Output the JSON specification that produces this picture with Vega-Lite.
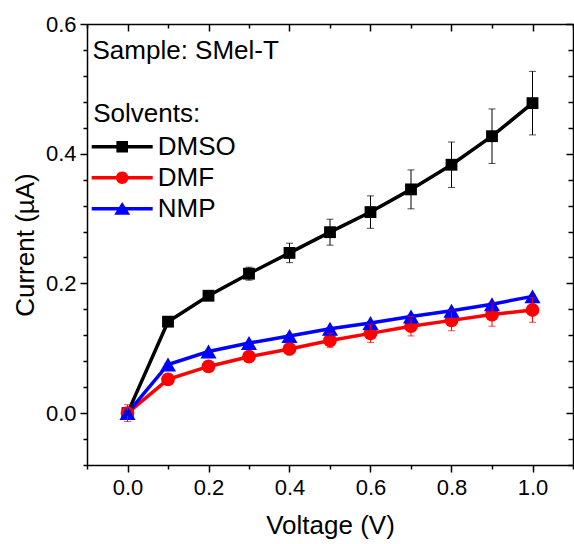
{
  "$schema": "https://vega.github.io/schema/vega-lite/v6.json",
  "width": 486,
  "height": 441,
  "autosize": {"type": "none"},
  "padding": {"left": 87, "top": 24, "right": 1, "bottom": 79},
  "background": "white",
  "title": {
    "text": "Sample: SMel-T",
    "anchor": "start",
    "frame": "group",
    "orient": "top",
    "offset": 0,
    "baseline": "alphabetic",
    "dx": 5.5,
    "dy": 71.5,
    "font": "Liberation Sans",
    "fontSize": 26,
    "fontWeight": "normal",
    "color": "black"
  },
  "config": {
    "font": "Liberation Sans",
    "view": {"stroke": null},
    "axis": {
      "grid": false,
      "domainColor": "black",
      "domainWidth": 1.5,
      "tickColor": "black",
      "tickWidth": 1.5,
      "labelColor": "black",
      "titleColor": "black",
      "labelFont": "Liberation Sans",
      "titleFont": "Liberation Sans",
      "labelFontSize": 22,
      "titleFontSize": 26,
      "titleFontWeight": "normal",
      "labelOverlap": false,
      "labelFlush": false
    }
  },
  "data": {
    "values": [
      {"solvent": "DMSO", "voltage": 0.0, "current": 0.0, "lo": -0.003, "hi": 0.003},
      {"solvent": "DMSO", "voltage": 0.1, "current": 0.141, "lo": 0.137, "hi": 0.145},
      {"solvent": "DMSO", "voltage": 0.2, "current": 0.181, "lo": 0.175, "hi": 0.187},
      {"solvent": "DMSO", "voltage": 0.3, "current": 0.215, "lo": 0.205, "hi": 0.225},
      {"solvent": "DMSO", "voltage": 0.4, "current": 0.247, "lo": 0.232, "hi": 0.262},
      {"solvent": "DMSO", "voltage": 0.5, "current": 0.279, "lo": 0.259, "hi": 0.299},
      {"solvent": "DMSO", "voltage": 0.6, "current": 0.310, "lo": 0.285, "hi": 0.335},
      {"solvent": "DMSO", "voltage": 0.7, "current": 0.345, "lo": 0.315, "hi": 0.375},
      {"solvent": "DMSO", "voltage": 0.8, "current": 0.383, "lo": 0.348, "hi": 0.418},
      {"solvent": "DMSO", "voltage": 0.9, "current": 0.427, "lo": 0.385, "hi": 0.469},
      {"solvent": "DMSO", "voltage": 1.0, "current": 0.478, "lo": 0.429, "hi": 0.527},
      {"solvent": "DMF", "voltage": 0.0, "current": 0.0, "lo": -0.013, "hi": 0.013},
      {"solvent": "DMF", "voltage": 0.1, "current": 0.052, "lo": 0.048, "hi": 0.056},
      {"solvent": "DMF", "voltage": 0.2, "current": 0.072, "lo": 0.067, "hi": 0.077},
      {"solvent": "DMF", "voltage": 0.3, "current": 0.087, "lo": 0.080, "hi": 0.094},
      {"solvent": "DMF", "voltage": 0.4, "current": 0.099, "lo": 0.090, "hi": 0.108},
      {"solvent": "DMF", "voltage": 0.5, "current": 0.112, "lo": 0.101, "hi": 0.123},
      {"solvent": "DMF", "voltage": 0.6, "current": 0.123, "lo": 0.109, "hi": 0.137},
      {"solvent": "DMF", "voltage": 0.7, "current": 0.134, "lo": 0.119, "hi": 0.149},
      {"solvent": "DMF", "voltage": 0.8, "current": 0.143, "lo": 0.127, "hi": 0.159},
      {"solvent": "DMF", "voltage": 0.9, "current": 0.152, "lo": 0.134, "hi": 0.170},
      {"solvent": "DMF", "voltage": 1.0, "current": 0.159, "lo": 0.140, "hi": 0.178},
      {"solvent": "NMP", "voltage": 0.0, "current": 0.0, "lo": -0.003, "hi": 0.003},
      {"solvent": "NMP", "voltage": 0.1, "current": 0.075, "lo": 0.073, "hi": 0.077},
      {"solvent": "NMP", "voltage": 0.2, "current": 0.095, "lo": 0.093, "hi": 0.097},
      {"solvent": "NMP", "voltage": 0.3, "current": 0.108, "lo": 0.106, "hi": 0.110},
      {"solvent": "NMP", "voltage": 0.4, "current": 0.119, "lo": 0.117, "hi": 0.121},
      {"solvent": "NMP", "voltage": 0.5, "current": 0.130, "lo": 0.128, "hi": 0.132},
      {"solvent": "NMP", "voltage": 0.6, "current": 0.139, "lo": 0.137, "hi": 0.141},
      {"solvent": "NMP", "voltage": 0.7, "current": 0.149, "lo": 0.147, "hi": 0.151},
      {"solvent": "NMP", "voltage": 0.8, "current": 0.158, "lo": 0.156, "hi": 0.160},
      {"solvent": "NMP", "voltage": 0.9, "current": 0.168, "lo": 0.166, "hi": 0.170},
      {"solvent": "NMP", "voltage": 1.0, "current": 0.180, "lo": 0.178, "hi": 0.182}
    ]
  },
  "resolve": {"axis": {"x": "independent", "y": "independent"}},
  "layer": [
    {
      "mark": {"type": "line", "strokeWidth": 3.5},
      "encoding": {
        "x": {
          "field": "voltage", "type": "quantitative",
          "scale": {"domain": [-0.1, 1.1], "nice": false, "zero": false},
          "axis": {
            "orient": "bottom",
            "title": "Voltage (V)",
            "values": [-0.1, 0, 0.1, 0.2, 0.3, 0.4, 0.5, 0.6, 0.7, 0.8, 0.9, 1, 1.1],
            "labelExpr": "abs(datum.value*5 - round(datum.value*5)) < 0.001 && datum.value > -0.01 && datum.value < 1.01 ? format(datum.value, '.1f') : ''",
            "tickSize": {"condition": {"test": "abs(datum.value*5 - round(datum.value*5)) < 0.001", "value": 7}, "value": 4},
            "labelPadding": 5,
            "titlePadding": 14
          }
        },
        "y": {
          "field": "current", "type": "quantitative",
          "scale": {"domain": [-0.08, 0.6], "nice": false, "zero": false},
          "axis": {
            "orient": "left",
            "title": "Current (µA)",
            "values": [-0.08, -0.04, 0, 0.04, 0.08, 0.12, 0.16, 0.2, 0.24, 0.28, 0.32, 0.36, 0.4, 0.44, 0.48, 0.52, 0.56, 0.6],
            "labelExpr": "abs(datum.value*5 - round(datum.value*5)) < 0.001 ? format(datum.value, '.1f') : ''",
            "tickSize": {"condition": {"test": "abs(datum.value*5 - round(datum.value*5)) < 0.001", "value": 7}, "value": 4},
            "labelPadding": 4,
            "titlePadding": 7
          }
        },
        "color": {
          "field": "solvent", "type": "nominal",
          "scale": {"domain": ["DMSO", "DMF", "NMP"], "range": ["#000000", "#ff0000", "#0000ff"]},
          "legend": {
            "orient": "none",
            "legendX": 6.2,
            "legendY": 77.2,
            "padding": 0,
            "offset": 0,
            "title": "Solvents:",
            "titleFont": "Liberation Sans",
            "titleFontSize": 26,
            "titleFontWeight": "normal",
            "titleColor": "black",
            "titleLimit": 400,
            "titlePadding": 6.5,
            "labelFont": "Liberation Sans",
            "labelFontSize": 26,
            "labelColor": "black",
            "labelOffset": 22.5,
            "labelLimit": 300,
            "symbolSize": 676,
            "symbolStrokeWidth": 0,
            "rowPadding": 5,
            "encode": {
              "title": {
                "update": {"dx": {"value": -16}}
              },
              "symbols": {
                "update": {
                  "shape": {"signal": "datum.value === 'DMSO' ? 'M-2.346,-0.13L2.346,-0.13L2.346,0.13L-2.346,0.13Z M-0.446,-0.446L0.446,-0.446L0.446,0.446L-0.446,0.446Z' : datum.value === 'DMF' ? 'M-2.346,-0.13L2.346,-0.13L2.346,0.13L-2.346,0.13Z M-0.477,0A0.477,0.477 0 1,1 0.477,0A0.477,0.477 0 1,1 -0.477,0Z' : 'M-2.346,-0.13L2.346,-0.13L2.346,0.13L-2.346,0.13Z M0,-0.515L0.615,0.47L-0.615,0.47Z'"},
                  "fill": {"signal": "datum.value === 'DMSO' ? '#000000' : datum.value === 'DMF' ? '#ff0000' : '#0000ff'"},
                  "stroke": {"value": "transparent"},
                  "strokeWidth": {"value": 0},
                  "opacity": {"value": 1},
                  "fillOpacity": {"value": 1}
                }
              }
            }
          }
        }
      }
    },
    {
      "transform": [{"filter": "datum.solvent === 'DMSO'"}],
      "mark": {"type": "point", "shape": "square", "size": 140, "filled": true, "opacity": 1, "strokeWidth": 0},
      "encoding": {
        "x": {"field": "voltage", "type": "quantitative", "scale": {"domain": [-0.1, 1.1], "nice": false, "zero": false}, "axis": null},
        "y": {"field": "current", "type": "quantitative", "scale": {"domain": [-0.08, 0.6], "nice": false, "zero": false}, "axis": null},
        "color": {"field": "solvent", "type": "nominal", "scale": {"domain": ["DMSO", "DMF", "NMP"], "range": ["#000000", "#ff0000", "#0000ff"]}}
      }
    },
    {
      "transform": [{"filter": "datum.solvent === 'DMF'"}],
      "mark": {"type": "point", "shape": "circle", "size": 190, "filled": true, "opacity": 1, "strokeWidth": 0},
      "encoding": {
        "x": {"field": "voltage", "type": "quantitative", "scale": {"domain": [-0.1, 1.1], "nice": false, "zero": false}, "axis": null},
        "y": {"field": "current", "type": "quantitative", "scale": {"domain": [-0.08, 0.6], "nice": false, "zero": false}, "axis": null},
        "color": {"field": "solvent", "type": "nominal", "scale": {"domain": ["DMSO", "DMF", "NMP"], "range": ["#000000", "#ff0000", "#0000ff"]}}
      }
    },
    {
      "transform": [{"filter": "datum.solvent === 'NMP'"}],
      "mark": {"type": "point", "shape": "triangle-up", "size": 260, "filled": true, "opacity": 1, "strokeWidth": 0},
      "encoding": {
        "x": {"field": "voltage", "type": "quantitative", "scale": {"domain": [-0.1, 1.1], "nice": false, "zero": false}, "axis": null},
        "y": {"field": "current", "type": "quantitative", "scale": {"domain": [-0.08, 0.6], "nice": false, "zero": false}, "axis": null},
        "color": {"field": "solvent", "type": "nominal", "scale": {"domain": ["DMSO", "DMF", "NMP"], "range": ["#000000", "#ff0000", "#0000ff"]}}
      }
    },
    {
      "mark": {"type": "rule", "strokeWidth": 1},
      "encoding": {
        "x": {
          "field": "voltage", "type": "quantitative",
          "scale": {"domain": [-0.1, 1.1], "nice": false, "zero": false},
          "axis": {
            "orient": "top",
            "title": null,
            "labels": false,
            "values": [-0.1, 0, 0.1, 0.2, 0.3, 0.4, 0.5, 0.6, 0.7, 0.8, 0.9, 1, 1.1],
            "tickSize": {"condition": {"test": "abs(datum.value*5 - round(datum.value*5)) < 0.001", "value": -7}, "value": -4}
          }
        },
        "y": {
          "field": "lo", "type": "quantitative",
          "scale": {"domain": [-0.08, 0.6], "nice": false, "zero": false},
          "axis": {
            "orient": "right",
            "title": null,
            "labels": false,
            "values": [-0.08, -0.04, 0, 0.04, 0.08, 0.12, 0.16, 0.2, 0.24, 0.28, 0.32, 0.36, 0.4, 0.44, 0.48, 0.52, 0.56, 0.6],
            "tickSize": {"condition": {"test": "abs(datum.value*5 - round(datum.value*5)) < 0.001", "value": -7}, "value": -5}
          }
        },
        "y2": {"field": "hi"},
        "color": {"field": "solvent", "type": "nominal", "scale": {"domain": ["DMSO", "DMF", "NMP"], "range": ["#000000", "#ff0000", "#0000ff"]}}
      }
    },
    {
      "mark": {"type": "tick", "orient": "horizontal", "size": 7, "thickness": 1},
      "encoding": {
        "x": {"field": "voltage", "type": "quantitative", "scale": {"domain": [-0.1, 1.1], "nice": false, "zero": false}, "axis": null},
        "y": {"field": "lo", "type": "quantitative", "scale": {"domain": [-0.08, 0.6], "nice": false, "zero": false}, "axis": null},
        "color": {"field": "solvent", "type": "nominal", "scale": {"domain": ["DMSO", "DMF", "NMP"], "range": ["#000000", "#ff0000", "#0000ff"]}}
      }
    },
    {
      "mark": {"type": "tick", "orient": "horizontal", "size": 7, "thickness": 1},
      "encoding": {
        "x": {"field": "voltage", "type": "quantitative", "scale": {"domain": [-0.1, 1.1], "nice": false, "zero": false}, "axis": null},
        "y": {"field": "hi", "type": "quantitative", "scale": {"domain": [-0.08, 0.6], "nice": false, "zero": false}, "axis": null},
        "color": {"field": "solvent", "type": "nominal", "scale": {"domain": ["DMSO", "DMF", "NMP"], "range": ["#000000", "#ff0000", "#0000ff"]}}
      }
    }
  ]
}
